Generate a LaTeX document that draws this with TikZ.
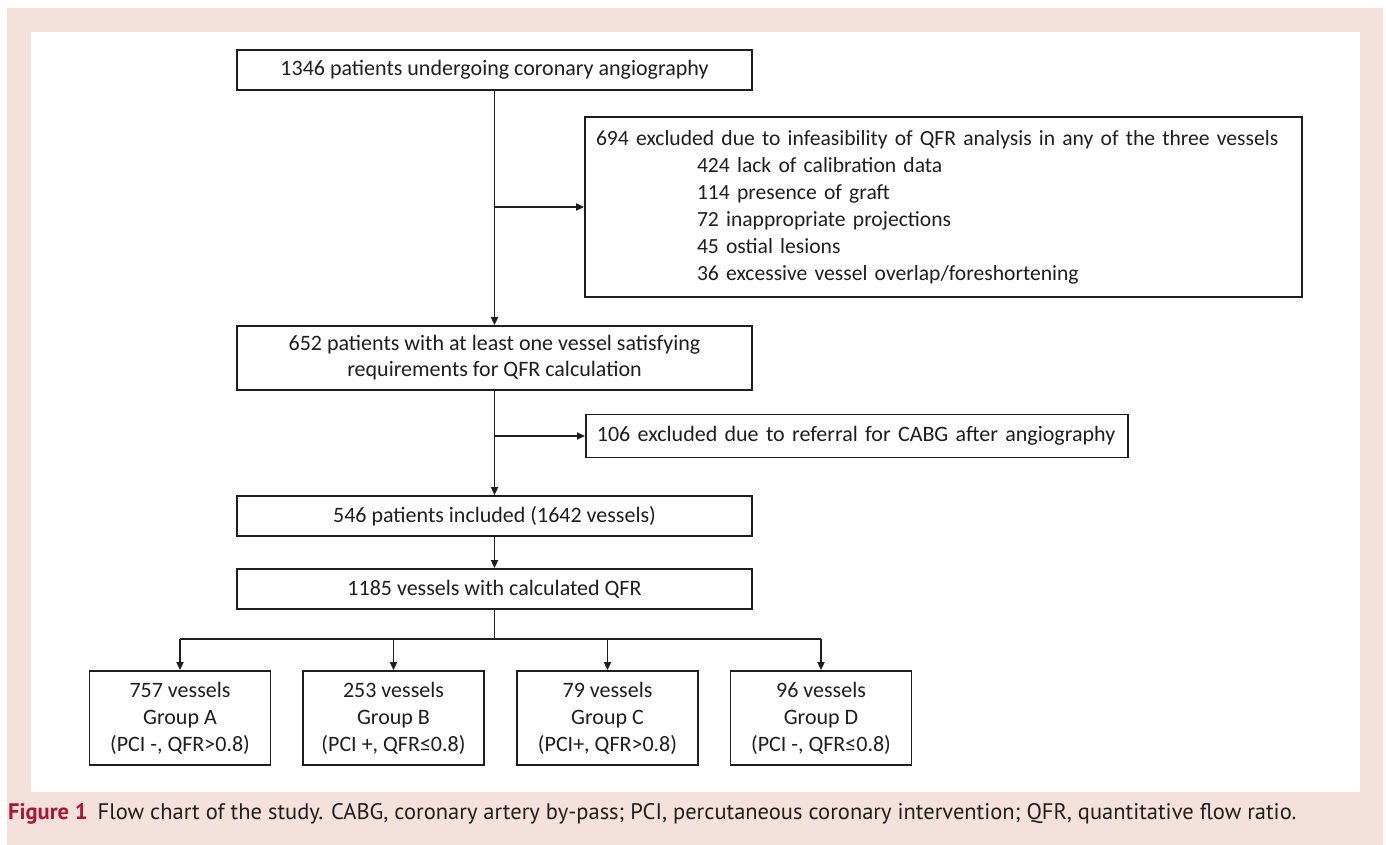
\documentclass[tikz,border=0pt]{standalone}
\usepackage{fontspec}
\setmainfont{Carlito}
\newfontfamily\capfont{PT Sans}
\usetikzlibrary{arrows.meta}
\definecolor{pinkbg}{RGB}{245,225,220}
\definecolor{capred}{RGB}{172,22,52}
\definecolor{ink}{RGB}{30,30,30}
\begin{document}
\begin{tikzpicture}[x=1pt,y=-1pt,
  box/.style={draw=ink,line width=1.8pt,fill=white,text=ink,
    font=\fontsize{22}{27}\selectfont,align=center,inner sep=0pt},
  conn/.style={line width=1.8pt,draw=ink},
  arr/.style={conn,-{Triangle[length=8pt,width=7pt]}}]
\useasboundingbox (0,0) rectangle (1386,845);
\fill[pinkbg] (7,8) rectangle (1383,845);
\fill[white] (31,32) rectangle (1360,792);

\node[box,minimum width=515pt,minimum height=40pt] (b1) at (494.5,70)
  {1346 patients undergoing coronary angiography};
\node[box,text width=695pt,inner xsep=11pt,minimum height=180pt,align=left,font=\fontsize{21.6}{27}\selectfont] (ex1) at (943.5,207)
  {\mbox{694 excluded due to infeasibility of QFR analysis in any of the three vessels}\\
   \hspace*{101pt}424 lack of calibration data\\
   \hspace*{101pt}114 presence of graft\\
   \hspace*{101pt}72 inappropriate projections\\
   \hspace*{101pt}45 ostial lesions\\
   \hspace*{101pt}36 excessive vessel overlap/foreshortening};
\node[box,minimum width=515pt,minimum height=64pt,font=\fontsize{22}{26}\selectfont] (b2) at (494.5,358)
  {652 patients with at least one vessel satisfying\\requirements for QFR calculation};
\node[box,anchor=west,text width=520pt,inner xsep=11pt,minimum height=43pt,align=left] (ex2) at (585,436)
  {106 excluded due to referral for CABG after angiography};
\node[box,minimum width=515pt,minimum height=40pt] (b3) at (494.5,516)
  {546 patients included (1642 vessels)};
\node[box,minimum width=515pt,minimum height=40pt] (b4) at (494.5,589)
  {1185 vessels with calculated QFR};

\node[box,minimum width=181pt,minimum height=94pt] (gA) at (180,718)
  {757 vessels\\Group A\\(PCI -, QFR>0.8)};
\node[box,minimum width=181pt,minimum height=94pt] (gB) at (393.5,718)
  {253 vessels\\Group B\\(PCI +, QFR≤0.8)};
\node[box,minimum width=181pt,minimum height=94pt] (gC) at (607.5,718)
  {79 vessels\\Group C\\(PCI+, QFR>0.8)};
\node[box,minimum width=181pt,minimum height=94pt] (gD) at (821,718)
  {96 vessels\\Group D\\(PCI -, QFR≤0.8)};

\coordinate (j1) at (b1.south |- ex1.west);
\coordinate (j2) at (b2.south |- ex2.west);
\coordinate (br) at (494.5,639);

\draw[arr] (b1.south) -- (b2.north);
\draw[arr] (j1) -- (ex1.west);
\draw[arr] (b2.south) -- (b3.north);
\draw[arr] (j2) -- (ex2.west);
\draw[arr] (b3.south) -- (b4.north);
\draw[conn] (b4.south) -- (br);
\draw[conn] (gA.north |- br) -- (gD.north |- br);
\draw[arr] (gA.north |- br) -- (gA.north);
\draw[arr] (gB.north |- br) -- (gB.north);
\draw[arr] (gC.north |- br) -- (gC.north);
\draw[arr] (gD.north |- br) -- (gD.north);

\node[anchor=base west,inner sep=0pt,text=ink,font=\capfont\fontsize{22.5}{26}\selectfont] (cap) at (8,819)
  {\textcolor{capred}{\textbf{Figure 1}}\hspace{10pt}Flow chart of the study. CABG, coronary artery by-pass; PCI, percutaneous coronary intervention; QFR, quantitative flow ratio.};
\end{tikzpicture}
\end{document}
